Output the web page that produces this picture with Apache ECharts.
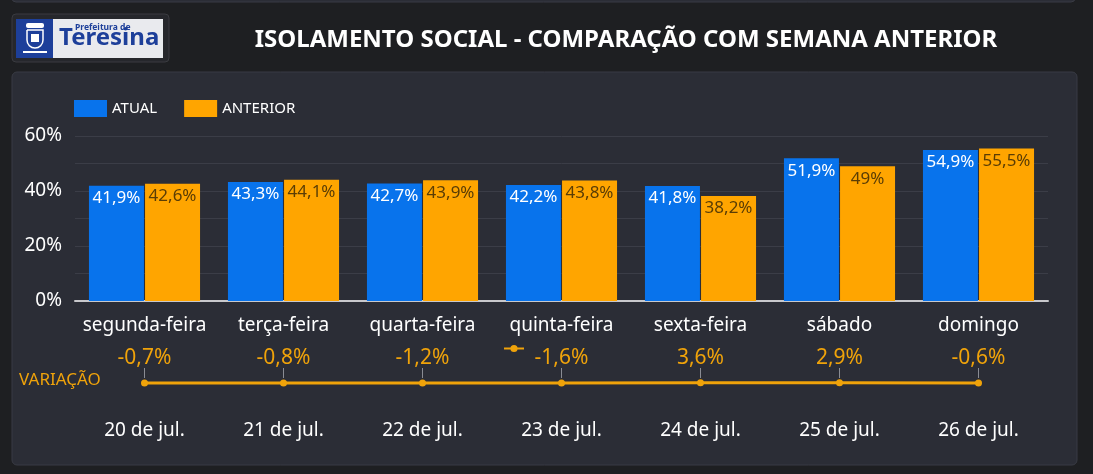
<!DOCTYPE html>
<html lang="pt">
<head>
    <meta charset="UTF-8">
    <title>Isolamento social</title>
    <style>
        html, body { margin: 0; padding: 0; background: #1e1f22; }
        #chart { width: 1093px; height: 474px; }
    </style>
</head>
<body>
<div id="chart"></div>
<script src="https://cdn.jsdelivr.net/npm/echarts@6/dist/echarts.min.js"></script>
<script>
    let weekDays = ['segunda-feira', 'terça-feira', 'quarta-feira', 'quinta-feira', 'sexta-feira', 'sábado', 'domingo'];
    let dates = ['20 de jul.', '21 de jul.', '22 de jul.', '23 de jul.', '24 de jul.', '25 de jul.', '26 de jul.'];
    let atual = [41.9, 43.3, 42.7, 42.2, 41.8, 51.9, 54.9];
    let anterior = [42.6, 44.1, 43.9, 43.8, 38.2, 49, 55.5];
    let variacao = [-0.7, -0.8, -1.2, -1.6, 3.6, 2.9, -0.6];
    let yTicks = [0, 20, 40, 60];

    let fmt = v => String(v).replace('.', ',') + '%';
    let font = '"Noto Sans", "Open Sans", sans-serif';

    let myChart = echarts.init(document.getElementById('chart'));
    let option = {
        backgroundColor: '#1e1f22',
        textStyle: { fontFamily: font },
        title: {
            text: 'ISOLAMENTO SOCIAL - COMPARAÇÃO COM SEMANA ANTERIOR',
            left: 621,
            textAlign: 'center',
            top: 23,
            textStyle: { color: '#ffffff', fontSize: 24, fontWeight: 'bold', fontFamily: font }
        },
        graphic: [
            // painel
            { type: 'rect', z: -10, shape: { x: 12, y: 72, width: 1065, height: 393, r: 5 },
              style: { fill: '#2b2d36', stroke: '#393b44', lineWidth: 1 } },
            { type: 'rect', z: -10, shape: { x: 12, y: -6, width: 1063, height: 8, r: 4 },
              style: { fill: '#2b2d36', stroke: '#393b44', lineWidth: 1 } },
            // logo
            { type: 'rect', z: -5, shape: { x: 12, y: 14, width: 157, height: 48, r: 4 },
              style: { fill: '#26272c', stroke: '#3a3b40', lineWidth: 1 } },
            { type: 'rect', shape: { x: 16, y: 19, width: 147, height: 39 }, style: { fill: '#e9eaee' } },
            { type: 'rect', shape: { x: 16, y: 19, width: 37, height: 39 }, style: { fill: '#1d3f9a' } },
            { type: 'rect', shape: { x: 27, y: 30, width: 16, height: 18, r: [0, 0, 8, 8] },
              style: { fill: 'none', stroke: '#ffffff', lineWidth: 1.5 } },
            { type: 'rect', shape: { x: 26, y: 23, width: 18, height: 5, r: 2 }, style: { fill: '#ffffff' } },
            { type: 'rect', shape: { x: 31, y: 34, width: 8, height: 8 }, style: { fill: '#ffffff' } },
            { type: 'rect', shape: { x: 23, y: 51, width: 24, height: 2 }, style: { fill: '#ffffff' } },
            { type: 'text', left: 59, top: 26, style: { text: 'Teresina', fill: '#1d3f9a',
              font: 'bold 24px ' + font } },
            { type: 'text', left: 75, top: 23, style: { text: 'Prefeitura de', fill: '#1d3f9a',
              font: 'bold 8.5px ' + font } },
            // rótulo da linha
            { type: 'text', left: 19, top: 372, style: { text: 'VARIAÇÃO', fill: '#f0a30a',
              font: '17px ' + font } }
        ],
        legend: [
            {
                data: ['ATUAL', 'ANTERIOR'],
                left: 69,
                top: 95,
                itemWidth: 33,
                itemHeight: 17,
                itemGap: 27,
                icon: 'rect',
                textStyle: { color: '#ffffff', fontSize: 15, fontFamily: font }
            },
            {
                data: ['VAR'],
                left: 498,
                top: 339,
                itemWidth: 20,
                itemHeight: 9,
                formatter: () => '',
                textStyle: { color: '#ffffff' }
            }
        ],
        grid: [
            { left: 75, width: 973, top: 136, height: 165 },
            { left: 75, width: 973, top: 378, height: 10 }
        ],
        xAxis: [
            {
                type: 'category',
                gridIndex: 0,
                data: weekDays,
                axisLine: { lineStyle: { color: '#c8c8cc', width: 2 } },
                axisTick: { show: false },
                axisLabel: { interval: 0, color: '#ffffff', fontSize: 19, margin: 15, fontFamily: font }
            },
            {
                type: 'category',
                gridIndex: 1,
                data: dates,
                axisLine: { show: false },
                axisTick: { show: false },
                axisLabel: { interval: 0, color: '#ffffff', fontSize: 19, margin: 33, fontFamily: font }
            },
            {
                type: 'category',
                gridIndex: 1,
                position: 'top',
                data: dates,
                axisLine: { show: false },
                axisTick: { show: true, alignWithLabel: true, length: 10, lineStyle: { color: '#8a8c94' } },
                axisLabel: { show: false }
            }
        ],
        yAxis: [
            {
                type: 'value',
                gridIndex: 0,
                min: 0,
                max: 60,
                interval: 10,
                axisLine: { show: false },
                axisTick: { show: false },
                splitLine: { lineStyle: { color: '#3b3d47' } },
                axisLabel: {
                    color: '#ffffff', fontSize: 19, margin: 13, fontFamily: font,
                    formatter: v => yTicks.includes(v) ? v + '%' : ''
                }
            },
            {
                type: 'value',
                gridIndex: 1,
                min: -100,
                max: 100,
                show: false
            }
        ],
        series: [
            {
                name: 'ATUAL',
                type: 'bar',
                data: atual,
                barWidth: 55,
                barGap: '2%',
                itemStyle: { color: '#0873ec' },
                label: {
                    show: true, position: 'insideTop', distance: 4,
                    color: '#ffffff', fontSize: 17, fontFamily: font,
                    formatter: p => fmt(p.value)
                }
            },
            {
                name: 'ANTERIOR',
                type: 'bar',
                data: anterior,
                barWidth: 55,
                itemStyle: { color: '#ffa500' },
                label: {
                    show: true, position: 'insideTop', distance: 4,
                    color: '#5a3d05', fontSize: 17, fontFamily: font,
                    formatter: p => fmt(p.value)
                }
            },
            {
                name: 'VAR',
                type: 'line',
                xAxisIndex: 1,
                yAxisIndex: 1,
                data: variacao,
                symbol: 'circle',
                symbolSize: 7,
                itemStyle: { color: '#f0a30a' },
                lineStyle: { color: '#f0a30a', width: 3 },
                label: {
                    show: true, position: 'top', distance: 11,
                    color: '#f0a30a', fontSize: 21, fontFamily: font,
                    formatter: p => fmt(p.value)
                }
            }
        ]
    };
    myChart.setOption(option);
</script>
</body>
</html>
